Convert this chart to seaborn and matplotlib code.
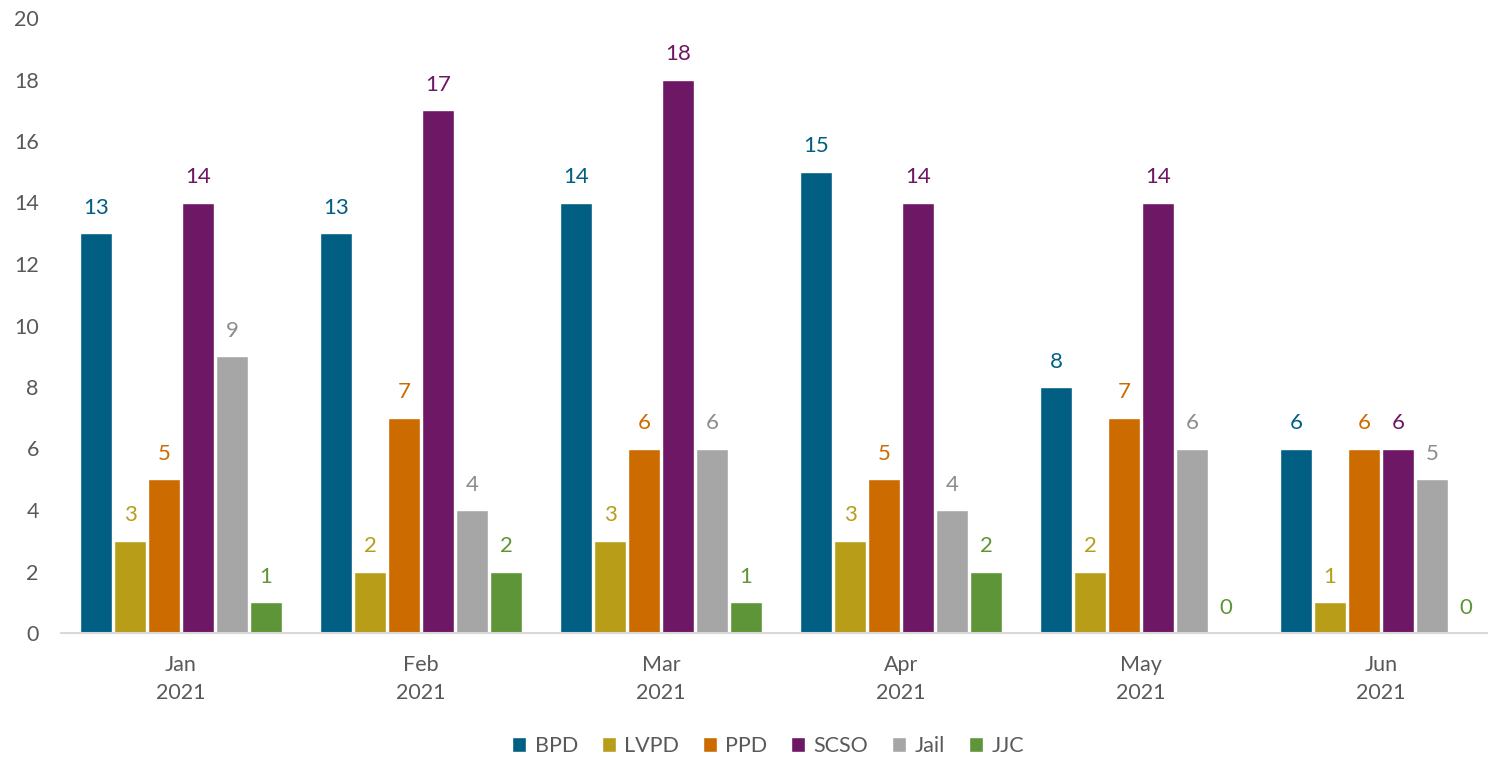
import matplotlib
matplotlib.use("Agg")
import matplotlib.pyplot as plt
import seaborn as sns
import pandas as pd

months = ["Jan\n2021", "Feb\n2021", "Mar\n2021", "Apr\n2021", "May\n2021", "Jun\n2021"]
agencies = ["BPD", "LVPD", "PPD", "SCSO", "Jail", "JJC"]
bpd = [13, 13, 14, 15, 8, 6]
lvpd = [3, 2, 3, 3, 2, 1]
ppd = [5, 7, 6, 5, 7, 6]
scso = [14, 17, 18, 14, 14, 6]
jail = [9, 4, 6, 4, 6, 5]
jjc = [1, 2, 1, 2, 0, 0]
colors = ["#005F83", "#B89D18", "#CC6C00", "#6D1765", "#A6A6A6", "#5E9538"]
label_colors = ["#005F83", "#B89D18", "#CC6C00", "#6D1765", "#8C8C8C", "#5E9538"]

series = [bpd, lvpd, ppd, scso, jail, jjc]
rows = []
for name, vals in zip(agencies, series):
    for m, v in zip(months, vals):
        rows.append({"month": m, "agency": name, "value": v})
df = pd.DataFrame(rows)

sns.set_theme(style="white")
plt.rcParams["font.family"] = ["Lato", "DejaVu Sans"]

fig = plt.figure(figsize=(14.88, 7.59), dpi=100)
ax = fig.add_axes([61 / 1488, (759 - 633) / 759, (1488 - 61) / 1488, (633 - 18) / 759])

sns.barplot(data=df, x="month", y="value", hue="agency", order=months,
            hue_order=agencies, palette=colors, width=0.85, gap=0.06,
            saturation=1, ax=ax, legend=True)

for cont, c in zip(ax.containers, label_colors):
    ax.bar_label(cont, labels=[f"{int(v)}" for v in cont.datavalues],
                 padding=11, color=c, fontsize=16)

ax.set_ylim(0, 20)
ax.set_xlim(-0.5, 5.5 - 13 / 240)
ax.set_yticks(range(0, 21, 2))
ax.set_xlabel("")
ax.set_ylabel("")
ax.tick_params(axis="both", colors="#595959", labelsize=15.5, length=0)
ax.tick_params(axis="y", pad=16)
ax.tick_params(axis="x", pad=16)
for lbl in ax.get_xticklabels():
    lbl.set_linespacing(1.5)
for s in ["top", "right", "left"]:
    ax.spines[s].set_visible(False)
ax.spines["bottom"].set_color("#D9D9D9")
ax.spines["bottom"].set_linewidth(1.5)

leg = ax.legend(loc="center", bbox_to_anchor=((768 - 61) / (1488 - 61), (633 - 746) / (633 - 18)),
                ncol=6, frameon=False, fontsize=15.5, handlelength=0.65, handleheight=0.65,
                handletextpad=0.4, columnspacing=1.1)
for t in leg.get_texts():
    t.set_color("#595959")

fig.savefig("out.png", dpi=100)
